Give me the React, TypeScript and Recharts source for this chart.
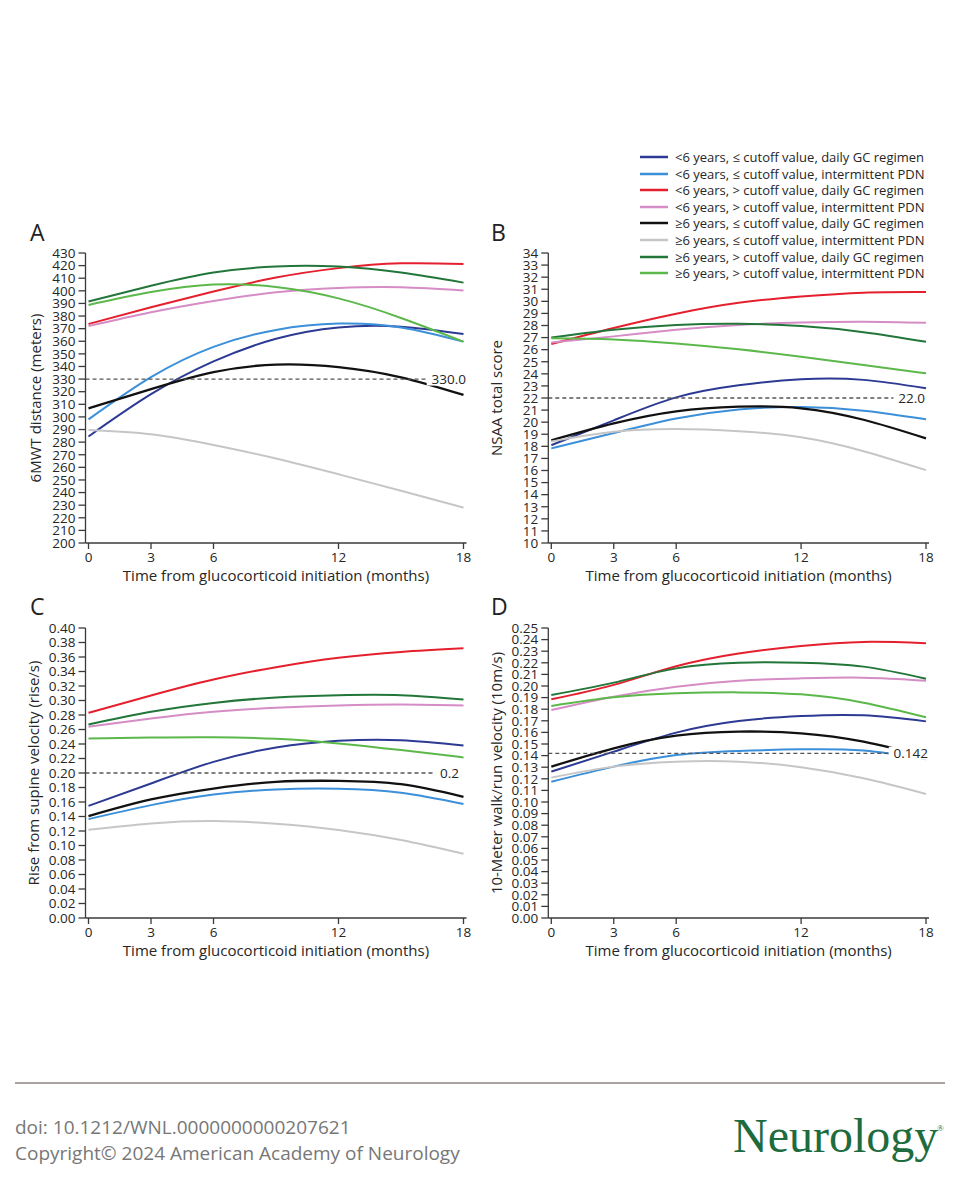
import React from 'react';
import { LineChart, Line, XAxis, YAxis, ReferenceLine, Legend } from 'recharts';

const FONT = '"Open Sans", "DejaVu Sans", sans-serif';

// ---------- categories ----------
const MONTHS = [0, 3, 6, 9, 12, 15, 18];
const X_TICKS = [0, 3, 6, 12, 18];

const SERIES_NAMES = [
  '<6 years, \u2264 cutoff value, daily GC regimen',
  '<6 years, \u2264 cutoff value, intermittent PDN',
  '<6 years, > cutoff value, daily GC regimen',
  '<6 years, > cutoff value, intermittent PDN',
  '\u22656 years, \u2264 cutoff value, daily GC regimen',
  '\u22656 years, \u2264 cutoff value, intermittent PDN',
  '\u22656 years, > cutoff value, daily GC regimen',
  '\u22656 years, > cutoff value, intermittent PDN',
];
const SERIES_COLORS = ['#2c3a93', '#3c8fd9', '#e5202e', '#d68cc4', '#111111', '#c6c6c6', '#23763a', '#5cb84a'];

// ---------- A: 6MWT distance (meters) ----------
const A_U6_LE_DAILY = [284.5, 318, 344, 362, 371, 371.6, 365.8];
const A_U6_LE_PDN = [298, 331.5, 355.5, 369, 374, 371, 359.7];
const A_U6_GT_DAILY = [373.7, 387, 399.5, 410.5, 418, 421.8, 421.3];
const A_U6_GT_PDN = [372, 383, 392, 398.8, 402.2, 402.8, 400.2];
const A_O6_LE_DAILY = [306.8, 322, 335.5, 341.5, 339.5, 331.4, 317.4];
const A_O6_LE_PDN = [289.6, 286.2, 277.7, 267, 254.5, 241.5, 228];
const A_O6_GT_DAILY = [391.5, 404, 414.5, 419.3, 419.2, 414.5, 406.5];
const A_O6_GT_PDN = [388.8, 399, 405, 403, 394, 378.5, 359.7];
const A_TICKS = [200, 210, 220, 230, 240, 250, 260, 270, 280, 290, 300, 310, 320, 330, 340, 350, 360, 370, 380, 390, 400, 410, 420, 430];

// ---------- B: NSAA total score ----------
const B_U6_LE_DAILY = [18.1, 20.15, 22.05, 23.05, 23.55, 23.5, 22.8];
const B_U6_LE_PDN = [17.83, 19.1, 20.3, 21.05, 21.25, 20.95, 20.24];
const B_U6_GT_DAILY = [26.47, 27.8, 28.98, 29.88, 30.4, 30.72, 30.77];
const B_U6_GT_PDN = [26.6, 27.1, 27.65, 28.05, 28.25, 28.32, 28.23];
const B_O6_LE_DAILY = [18.5, 19.9, 20.9, 21.28, 21.15, 20.2, 18.66];
const B_O6_LE_PDN = [18.4, 19.2, 19.43, 19.25, 18.75, 17.6, 16.03];
const B_O6_GT_DAILY = [27.0, 27.65, 28.05, 28.15, 27.95, 27.45, 26.66];
const B_O6_GT_PDN = [26.94, 26.85, 26.52, 26.03, 25.42, 24.73, 24.04];
const B_TICKS = [10, 11, 12, 13, 14, 15, 16, 17, 18, 19, 20, 21, 22, 23, 24, 25, 26, 27, 28, 29, 30, 31, 32, 33, 34];

// ---------- C: Rise from supine velocity (rise/s) ----------
const C_U6_LE_DAILY = [0.1547, 0.1856, 0.2154, 0.2352, 0.2444, 0.2453, 0.238];
const C_U6_LE_PDN = [0.1364, 0.1557, 0.1704, 0.1773, 0.1782, 0.1727, 0.1571];
const C_U6_GT_DAILY = [0.283, 0.307, 0.329, 0.346, 0.359, 0.367, 0.372];
const C_U6_GT_PDN = [0.2637, 0.2751, 0.2844, 0.2899, 0.2931, 0.2944, 0.2931];
const C_O6_LE_DAILY = [0.1405, 0.1635, 0.1786, 0.1878, 0.1892, 0.1846, 0.1672];
const C_O6_LE_PDN = [0.1216, 0.1305, 0.1338, 0.13, 0.1215, 0.1075, 0.0885];
const C_O6_GT_DAILY = [0.2669, 0.2844, 0.2967, 0.3041, 0.3073, 0.3073, 0.3013];
const C_O6_GT_PDN = [0.2476, 0.249, 0.2494, 0.2472, 0.2408, 0.2316, 0.2215];
const C_TICKS = [0, 0.02, 0.04, 0.06, 0.08, 0.1, 0.12, 0.14, 0.16, 0.18, 0.2, 0.22, 0.24, 0.26, 0.28, 0.3, 0.32, 0.34, 0.36, 0.38, 0.4];

// ---------- D: 10-Meter walk/run velocity (10m/s) ----------
const D_U6_LE_DAILY = [0.1262, 0.1434, 0.1598, 0.1698, 0.1741, 0.1747, 0.1695];
const D_U6_LE_PDN = [0.1175, 0.1305, 0.1405, 0.144, 0.1454, 0.1443, 0.1368];
const D_U6_GT_DAILY = [0.1885, 0.201, 0.217, 0.228, 0.2345, 0.238, 0.2368];
const D_U6_GT_PDN = [0.1793, 0.1908, 0.1994, 0.2046, 0.2066, 0.2072, 0.2046];
const D_O6_LE_DAILY = [0.1305, 0.1463, 0.1572, 0.1607, 0.1592, 0.152, 0.139];
const D_O6_LE_PDN = [0.121, 0.1305, 0.1348, 0.1348, 0.1299, 0.1204, 0.1069];
const D_O6_GT_DAILY = [0.1922, 0.2029, 0.2152, 0.2201, 0.2201, 0.2167, 0.2063];
const D_O6_GT_PDN = [0.1828, 0.1902, 0.1937, 0.1945, 0.1928, 0.1856, 0.173];
const D_TICKS = [0, 0.01, 0.02, 0.03, 0.04, 0.05, 0.06, 0.07, 0.08, 0.09, 0.1, 0.11, 0.12, 0.13, 0.14, 0.15, 0.16, 0.17, 0.18, 0.19, 0.2, 0.21, 0.22, 0.23, 0.24, 0.25];

const X_TITLE = 'Time from glucocorticoid initiation (months)';
const TEXT_COLOR = '#262626';

function buildRows(series: number[][]) {
  return MONTHS.map((m, i) => {
    const row: Record<string, number> = { month: m };
    series.forEach((s, k) => {
      row['s' + k] = s[i];
    });
    return row;
  });
}

function textWidth(t: string) {
  let w = 0;
  for (const ch of t) w += ch === '.' ? 3.5 : 7.7;
  return w;
}

function makeThresholdLabel(text: string, inset: number) {
  return (props: any) => {
    const vb = props.viewBox || {};
    const plotRight = (vb.x || 0) + (vb.width || 0);
    const right = plotRight - inset;
    const w = textWidth(text) + 5;
    return (
      <g>
        <rect x={right - w} y={vb.y - 6.5} width={w + inset + 1} height={13} fill="#ffffff" />
        <text x={right} y={vb.y} dy="0.36em" textAnchor="end" fontSize={13.5} fontFamily={FONT} fill={TEXT_COLOR}>
          {text}
        </text>
      </g>
    );
  };
}

const LegendContent = (props: any) => {
  const payload: any[] = props.payload || [];
  const items = SERIES_NAMES.map((n, i) => {
    const found = payload.find((p: any) => p.value === n);
    return { value: n, color: found && found.color ? found.color : SERIES_COLORS[i] };
  });
  return (
    <div style={{ fontFamily: FONT, fontSize: 13, color: TEXT_COLOR }}>
      {items.map((it, i) => (
        <div key={i} style={{ display: 'flex', alignItems: 'center', height: 16.6, whiteSpace: 'nowrap' }}>
          <svg width={28} height={16} style={{ display: 'block' }}>
            <line x1={0} x2={28} y1={8} y2={8} stroke={it.color} strokeWidth={2.5} />
          </svg>
          <span style={{ marginLeft: 7 }}>{it.value}</span>
        </div>
      ))}
    </div>
  );
};

type PanelProps = {
  left: number;
  top: number;
  width: number;
  height: number;
  margin: { top: number; right: number; bottom: number; left: number };
  yWidth: number;
  yTitleOffset: number;
  series: number[][];
  domain: [number, number];
  ticks: number[];
  fmt: (v: number) => string;
  yTitle: string;
  threshold: number;
  thresholdText: string;
  labelInset: number;
  legend?: boolean;
};

function Panel(p: PanelProps) {
  const rows = buildRows(p.series);
  return (
    <div style={{ position: 'absolute', left: p.left, top: p.top, width: p.width, height: p.height }}>
      <LineChart width={p.width} height={p.height} data={rows} margin={p.margin}>
        <XAxis
          dataKey="month"
          type="number"
          domain={[0, 18]}
          ticks={X_TICKS}
          interval={0}
          padding={{ left: 3, right: 3 }}
          tickSize={6}
          tickMargin={3}
          stroke="#3a3a3a"
          strokeWidth={1.3}
          tick={{ fontSize: 13.5, fill: TEXT_COLOR, fontFamily: FONT }}
          height={40}
          label={{
            value: X_TITLE,
            position: 'insideBottom',
            offset: 2,
            style: { fontSize: 15, fill: TEXT_COLOR, fontFamily: FONT },
          }}
        />
        <YAxis
          type="number"
          domain={p.domain}
          ticks={p.ticks}
          interval={0}
          allowDataOverflow
          tickFormatter={p.fmt}
          width={p.yWidth}
          tickSize={7}
          tickMargin={3}
          stroke="#3a3a3a"
          strokeWidth={1.3}
          tick={{ fontSize: 13.5, fill: TEXT_COLOR, fontFamily: FONT }}
          label={{
            value: p.yTitle,
            angle: -90,
            position: 'insideLeft',
            offset: p.yTitleOffset,
            style: { textAnchor: 'middle', fontSize: 15, fill: TEXT_COLOR, fontFamily: FONT },
          }}
        />
        {p.series.map((_, k) => (
          <Line
            key={k}
            dataKey={'s' + k}
            name={SERIES_NAMES[k]}
            type="natural"
            stroke={SERIES_COLORS[k]}
            strokeWidth={k === 4 ? 2.3 : 2}
            dot={false}
            activeDot={false}
            isAnimationActive={false}
          />
        ))}
        <ReferenceLine
          y={p.threshold}
          stroke="#555"
          strokeWidth={1.3}
          strokeDasharray="4 3"
          label={{ content: makeThresholdLabel(p.thresholdText, p.labelInset) }}
        />
        {p.legend ? (
          <Legend
            layout="vertical"
            align="center"
            verticalAlign="middle"
            content={<LegendContent />}
            wrapperStyle={{ top: 8.7, left: 160, width: 310, height: 134 }}
          />
        ) : null}
      </LineChart>
    </div>
  );
}

const fmtInt = (v: number) => String(v);
const fmt2 = (v: number) => v.toFixed(2);

export default function App() {
  return (
    <div style={{ position: 'absolute', left: 0, top: 0, width: 960, height: 1200, background: '#fff', overflow: 'hidden' }}>
      <svg width={960} height={1200} style={{ position: 'absolute', left: 0, top: 0 }}>
        <g fontFamily={FONT} fontSize={23} fill="#222">
          <text x={30} y={241}>A</text>
          <text x={491} y={241}>B</text>
          <text x={30} y={615}>C</text>
          <text x={491} y={615}>D</text>
        </g>
        <line x1={15} x2={945} y1={1083} y2={1083} stroke="#8c8380" strokeWidth={1.5} />
        <text x={15} y={1134} fontFamily={FONT} fontSize={19} fill="#777">doi: 10.1212/WNL.0000000000207621</text>
        <text x={15} y={1160} fontFamily={FONT} fontSize={19} fill="#777">Copyright© 2024 American Academy of Neurology</text>
        <text x={733} y={1152} fontFamily='"Liberation Serif", "Times New Roman", serif' fontSize={48} fill="#1e6b3d">Neurology</text>
        <text x={937} y={1131} fontFamily='"Liberation Serif", serif' fontSize={9} fill="#1e6b3d">®</text>
      </svg>

      <Panel
        left={0}
        top={220}
        width={480}
        height={370}
        margin={{ top: 33, right: 13.5, bottom: 7, left: 22 }}
        yWidth={63.5}
        yTitleOffset={14}
        series={[A_U6_LE_DAILY, A_U6_LE_PDN, A_U6_GT_DAILY, A_U6_GT_PDN, A_O6_LE_DAILY, A_O6_LE_PDN, A_O6_GT_DAILY, A_O6_GT_PDN]}
        domain={[200, 430]}
        ticks={A_TICKS}
        fmt={fmtInt}
        yTitle="6MWT distance (meters)"
        threshold={330}
        thresholdText="330.0"
        labelInset={0.5}
      />
      <Panel
        left={480}
        top={140}
        width={480}
        height={450}
        margin={{ top: 113, right: 31, bottom: 7, left: 3 }}
        yWidth={65.3}
        yTitleOffset={13.5}
        series={[B_U6_LE_DAILY, B_U6_LE_PDN, B_U6_GT_DAILY, B_U6_GT_PDN, B_O6_LE_DAILY, B_O6_LE_PDN, B_O6_GT_DAILY, B_O6_GT_PDN]}
        domain={[10, 34]}
        ticks={B_TICKS}
        fmt={fmtInt}
        yTitle="NSAA total score"
        threshold={22}
        thresholdText="22.0"
        labelInset={4}
        legend
      />
      <Panel
        left={0}
        top={590}
        width={480}
        height={370}
        margin={{ top: 38, right: 13.5, bottom: 2, left: 22 }}
        yWidth={63.5}
        yTitleOffset={12}
        series={[C_U6_LE_DAILY, C_U6_LE_PDN, C_U6_GT_DAILY, C_U6_GT_PDN, C_O6_LE_DAILY, C_O6_LE_PDN, C_O6_GT_DAILY, C_O6_GT_PDN]}
        domain={[0, 0.4]}
        ticks={C_TICKS}
        fmt={fmt2}
        yTitle="Rise from supine velocity (rise/s)"
        threshold={0.2}
        thresholdText="0.2"
        labelInset={7.5}
      />
      <Panel
        left={480}
        top={590}
        width={480}
        height={370}
        margin={{ top: 38, right: 31, bottom: 2, left: 3 }}
        yWidth={65.3}
        yTitleOffset={14}
        series={[D_U6_LE_DAILY, D_U6_LE_PDN, D_U6_GT_DAILY, D_U6_GT_PDN, D_O6_LE_DAILY, D_O6_LE_PDN, D_O6_GT_DAILY, D_O6_GT_PDN]}
        domain={[0, 0.25]}
        ticks={D_TICKS}
        fmt={fmt2}
        yTitle="10-Meter walk/run velocity (10m/s)"
        threshold={0.142}
        thresholdText="0.142"
        labelInset={1}
      />
    </div>
  );
}
